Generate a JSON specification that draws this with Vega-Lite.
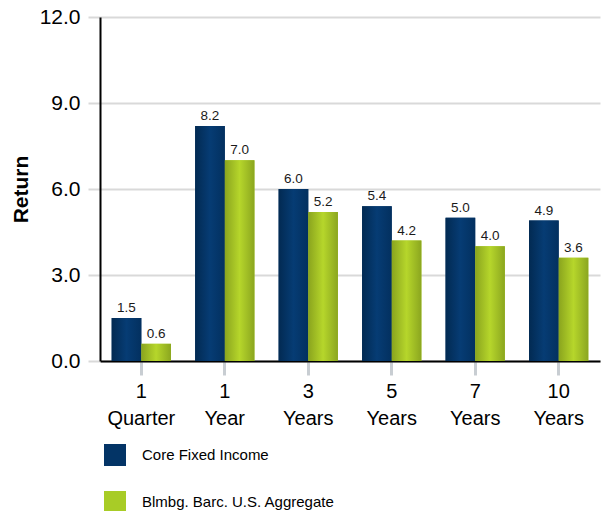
{
  "$schema": "https://vega.github.io/schema/vega-lite/v6.json",
  "width": 500,
  "height": 344,
  "autosize": {"type": "none"},
  "padding": {"left": 100, "top": 17, "right": 1, "bottom": 150},
  "config": {
    "font": "Liberation Sans",
    "view": {"stroke": null}
  },
  "data": {
    "values": [
      {"period": "1 Quarter", "series": "Core Fixed Income", "value": 1.5},
      {"period": "1 Quarter", "series": "Blmbg. Barc. U.S. Aggregate", "value": 0.6},
      {"period": "1 Year", "series": "Core Fixed Income", "value": 8.2},
      {"period": "1 Year", "series": "Blmbg. Barc. U.S. Aggregate", "value": 7.0},
      {"period": "3 Years", "series": "Core Fixed Income", "value": 6.0},
      {"period": "3 Years", "series": "Blmbg. Barc. U.S. Aggregate", "value": 5.2},
      {"period": "5 Years", "series": "Core Fixed Income", "value": 5.4},
      {"period": "5 Years", "series": "Blmbg. Barc. U.S. Aggregate", "value": 4.2},
      {"period": "7 Years", "series": "Core Fixed Income", "value": 5.0},
      {"period": "7 Years", "series": "Blmbg. Barc. U.S. Aggregate", "value": 4.0},
      {"period": "10 Years", "series": "Core Fixed Income", "value": 4.9},
      {"period": "10 Years", "series": "Blmbg. Barc. U.S. Aggregate", "value": 3.6}
    ]
  },
  "encoding": {
    "x": {
      "field": "period",
      "type": "nominal",
      "sort": null,
      "scale": {"paddingInner": 0.29, "paddingOuter": 0.14},
      "axis": {
        "title": null,
        "labelAngle": 0,
        "labelExpr": "split(datum.label, ' ')",
        "labelFontSize": 20,
        "labelLineHeight": 27,
        "labelColor": "#000000",
        "labelPadding": 6,
        "domainColor": "#000000",
        "domainWidth": 2,
        "tickColor": "#c8cdd2",
        "tickWidth": 3,
        "tickSize": 14,
        "tickBand": "center",
        "grid": false
      }
    },
    "xOffset": {
      "field": "series",
      "type": "nominal",
      "sort": ["Core Fixed Income", "Blmbg. Barc. U.S. Aggregate"],
      "scale": {"paddingInner": 0, "paddingOuter": 0}
    },
    "y": {
      "field": "value",
      "type": "quantitative",
      "scale": {"domain": [0, 12]},
      "axis": {
        "title": "Return",
        "titleFontSize": 21,
        "titleFontWeight": "bold",
        "titleColor": "#000000",
        "titlePadding": 8,
        "values": [0, 3, 6, 9, 12],
        "format": ".1f",
        "labelFontSize": 21,
        "labelColor": "#000000",
        "labelPadding": 8,
        "domainColor": "#000000",
        "domainWidth": 2,
        "tickColor": "#d9d9d9",
        "tickWidth": 2,
        "tickSize": 12,
        "gridColor": "#d9d9d9",
        "gridWidth": 2
      }
    }
  },
  "layer": [
    {
      "mark": {"type": "bar"},
      "encoding": {
        "fill": {
          "field": "series",
          "type": "nominal",
          "sort": ["Core Fixed Income", "Blmbg. Barc. U.S. Aggregate"],
          "scale": {"domain": ["Core Fixed Income", "Blmbg. Barc. U.S. Aggregate"], "range": ["#033466", "#a8cc26"]},
          "legend": {
            "title": null,
            "orient": "none",
            "legendX": 4,
            "legendY": 427,
            "symbolType": "square",
            "symbolSize": 484,
            "symbolStrokeWidth": 0,
            "labelFontSize": 15,
            "labelColor": "#000000",
            "labelOffset": 16,
            "labelLimit": 400,
            "rowPadding": 25
          }
        }
      }
    },
    {
      "mark": {"type": "bar"},
      "encoding": {
        "fill": {
          "condition": {
            "test": "datum.series === 'Core Fixed Income'",
            "value": {
              "gradient": "linear", "x1": 0, "y1": 0, "x2": 1, "y2": 0,
              "stops": [
                {"offset": 0, "color": "#022a52"},
                {"offset": 0.5, "color": "#063c74"},
                {"offset": 1, "color": "#03305f"}
              ]
            }
          },
          "value": {
            "gradient": "linear", "x1": 0, "y1": 0, "x2": 1, "y2": 0,
            "stops": [
              {"offset": 0, "color": "#8aa41e"},
              {"offset": 0.5, "color": "#b6d62b"},
              {"offset": 1, "color": "#8ba61f"}
            ]
          }
        }
      }
    },
    {
      "mark": {"type": "text", "dy": -10, "fontSize": 13.5, "color": "#1a1a1a"},
      "encoding": {
        "text": {"field": "value", "type": "quantitative", "format": ".1f"}
      }
    }
  ]
}
